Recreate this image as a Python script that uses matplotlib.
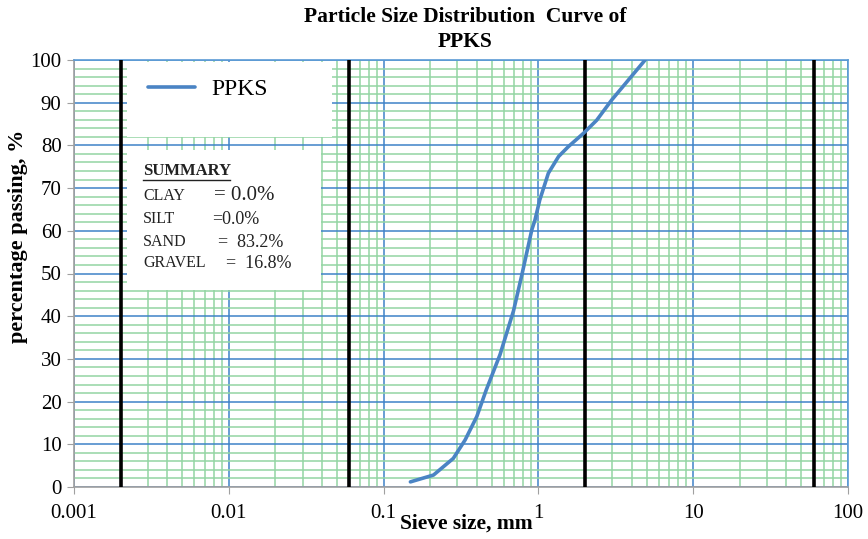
import matplotlib.pyplot as plt
from matplotlib.ticker import LogLocator, MultipleLocator, FixedLocator
from matplotlib.patches import Rectangle

plt.rcParams['font.family'] = ['Liberation Serif', 'DejaVu Serif']

# sieve data
sieve_mm = [0.149, 0.21, 0.282, 0.336, 0.40, 0.46, 0.565, 0.69, 0.78, 0.906, 0.95, 1.02,
            1.16, 1.35, 1.56, 1.95, 2.38, 2.97, 4.89]
passing = [1.2, 2.8, 6.7, 11.0, 16.5, 22.7, 31.0, 41.2, 49.5, 60.2, 62.5, 67.2,
           73.5, 77.4, 79.7, 82.8, 85.9, 90.6, 100]
# clay / silt / sand / gravel limits
limits = [0.002, 0.06, 2, 60]
xticks = [0.001, 0.01, 0.1, 1, 10, 100]
xtick_labels = ['0.001', '0.01', '0.1', '1', '10', '100']

W, H = 868, 539
fig = plt.figure(figsize=(W / 100, H / 100), dpi=100)
ax = fig.add_axes([74 / W, 1 - 487 / H, 774 / W, 427 / H])


def fx(px):
    return px / W


def fy(py):
    return 1 - py / H


ax.set_xscale('log')
ax.set_xlim(0.001, 100)
ax.set_ylim(0, 100)

green = '#93d5a3'
blue = '#3f82c8'
ax.xaxis.set_major_locator(FixedLocator(xticks))
ax.xaxis.set_minor_locator(LogLocator(base=10, subs=range(2, 10)))
ax.set_xticklabels(xtick_labels)
ax.yaxis.set_major_locator(MultipleLocator(10))
ax.yaxis.set_minor_locator(MultipleLocator(2))
ax.grid(which='minor', color=green, lw=1.1, zorder=0)
ax.grid(which='major', color=blue, lw=1.1, zorder=0)
ax.set_axisbelow(True)
ax.tick_params(which='minor', length=0)
ax.tick_params(which='major', length=5, color='#a0a0a0', labelsize=15, pad=4)
ax.tick_params(axis='x', pad=7)
for s in ['left', 'bottom']:
    ax.spines[s].set_color('#a0a0a0')
    ax.spines[s].set_linewidth(1.2)
for s in ['top', 'right']:
    ax.spines[s].set_color('#5b9bd5')
    ax.spines[s].set_linewidth(1.2)

for lim in limits:
    ax.axvline(lim, color='black', lw=2.6, zorder=3)

# white boxes for legend and summary
ax.add_patch(Rectangle((0.0685, 0.82), 0.2645, 0.175, transform=ax.transAxes,
                       facecolor='white', edgecolor='none', zorder=2))
ax.add_patch(Rectangle((0.0685, 0.461), 0.2505, 0.328, transform=ax.transAxes,
                       facecolor='white', edgecolor='none', zorder=2))

line, = ax.plot(sieve_mm, passing, color='#4a84c4', lw=2.6, zorder=4,
                solid_capstyle='round', solid_joinstyle='round', label='PPKS')
leg = ax.legend(handles=[line], loc='center left', bbox_to_anchor=(0.0956, 0.932),
                frameon=False, fontsize=17, handlelength=2.0, handletextpad=0.7,
                borderpad=0, borderaxespad=0)

# summary text
t = fig.text(fx(143), fy(171), 'SUMMARY', fontsize=12, fontweight='bold', va='center',
             color='#222222')
fig.add_artist(plt.Line2D([fx(143), fx(230)], [fy(180), fy(180)], color='#222222', lw=1))
rows = [
    (196, 'CLAY', 214, '= 0.0%', 15),
    (219, 'SILT', 212, '=0.0%', 13),
    (242, 'SAND', 218, '=  83.2%', 13),
    (263, 'GRAVEL', 226, '=  16.8%', 13),
]
for py, name, vx, val, vs in rows:
    fig.text(fx(143), fy(py), name, fontsize=11.5, va='center', color='#222222')
    fig.text(fx(vx), fy(py), val, fontsize=vs, va='center', color='#222222')

fig.text(fx(465), fy(17), 'Particle Size Distribution  Curve of', ha='center', va='center',
         fontsize=15.5, fontweight='bold')
fig.text(fx(465), fy(42), 'PPKS', ha='center', va='center', fontsize=15.5, fontweight='bold')
fig.text(fx(466), fy(524), 'Sieve size, mm', ha='center', va='center', fontsize=15.5,
         fontweight='bold')
fig.text(fx(18), fy(236), 'percentage passing, %', ha='center', va='center', fontsize=16,
         fontweight='bold', rotation=90)

fig.savefig('out.png', dpi=100)
